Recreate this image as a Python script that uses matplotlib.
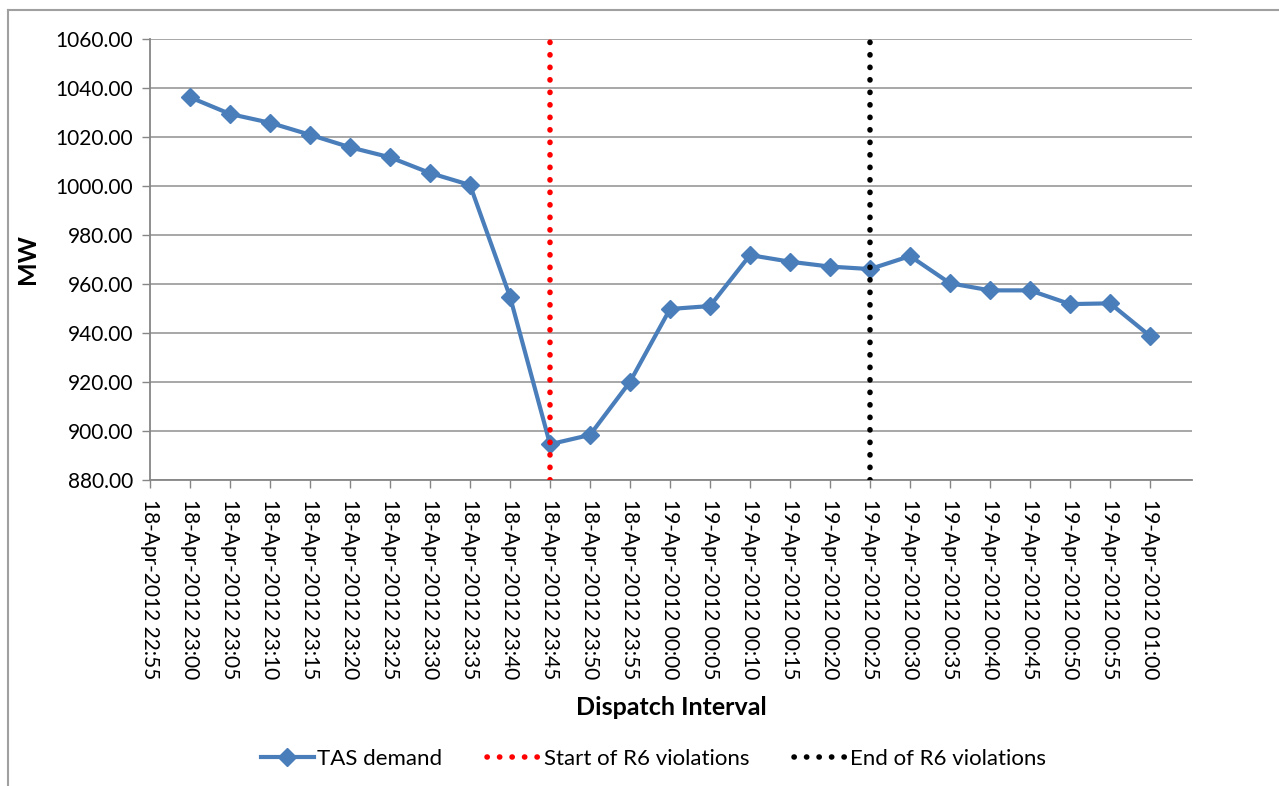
import matplotlib.pyplot as plt
from matplotlib.lines import Line2D

plt.rcParams['font.family'] = ['Lato', 'DejaVu Sans']

# Intervalos de despacho (eje x)
intervalos = ['18-Apr-2012 22:55', '18-Apr-2012 23:00', '18-Apr-2012 23:05', '18-Apr-2012 23:10',
              '18-Apr-2012 23:15', '18-Apr-2012 23:20', '18-Apr-2012 23:25', '18-Apr-2012 23:30',
              '18-Apr-2012 23:35', '18-Apr-2012 23:40', '18-Apr-2012 23:45', '18-Apr-2012 23:50',
              '18-Apr-2012 23:55', '19-Apr-2012 00:00', '19-Apr-2012 00:05', '19-Apr-2012 00:10',
              '19-Apr-2012 00:15', '19-Apr-2012 00:20', '19-Apr-2012 00:25', '19-Apr-2012 00:30',
              '19-Apr-2012 00:35', '19-Apr-2012 00:40', '19-Apr-2012 00:45', '19-Apr-2012 00:50',
              '19-Apr-2012 00:55', '19-Apr-2012 01:00']

# Demanda TAS (MW), empieza en 23:00
demanda_intervalos = intervalos[1:]
demanda = [1036.2, 1029.4, 1025.8, 1020.9, 1015.8, 1011.7, 1005.3, 1000.4, 954.8, 894.6,
           898.4, 920.1, 949.8, 951.0, 971.8, 969.1, 967.1, 966.1, 971.4, 960.3,
           957.4, 957.4, 951.8, 952.1, 938.8]

inicio_violacion = '18-Apr-2012 23:45'
fin_violacion = '19-Apr-2012 00:25'

y_ticks = [880, 900, 920, 940, 960, 980, 1000, 1020, 1040, 1060]

fig = plt.figure(figsize=(12.79, 7.86), dpi=100)
ax = fig.add_axes([0.1173, 0.3893, 0.932 - 0.1173, 0.9504 - 0.3893])

pos = {lab: i for i, lab in enumerate(intervalos)}
xs = [pos[l] for l in demanda_intervalos]

ax.plot(xs, demanda, color='#4A7EBB', linewidth=3.0, marker='D', markersize=9,
        label='TAS demand', zorder=3)
ax.axvline(pos[inicio_violacion], color='#FF0000', linewidth=4.0,
           linestyle=(0, (0.05, 2.2)), dash_capstyle='round', label='Start of R6 violations', zorder=4)
ax.axvline(pos[fin_violacion], color='#000000', linewidth=4.0,
           linestyle=(0, (0.05, 2.2)), dash_capstyle='round', label='End of R6 violations', zorder=4)

# Ejes
ax.set_xlim(0, 26.05)
ax.set_ylim(880, 1060)
ax.set_yticks(y_ticks)
ax.set_yticklabels([f'{v:.2f}' for v in y_ticks])
ax.set_xticks(range(len(intervalos)))
ax.set_xticklabels(intervalos, rotation=270, ha='center', va='top')
ax.tick_params(axis='both', labelsize=15, color='#868686', length=6, width=1)
ax.tick_params(axis='x', pad=8)
ax.tick_params(axis='y', pad=6)
ax.grid(True, axis='y', color='#A0A0A0', linewidth=1.3)
ax.set_axisbelow(True)
for s in ['top', 'right']:
    ax.spines[s].set_visible(False)
for s in ['left', 'bottom']:
    ax.spines[s].set_color('#868686')
    ax.spines[s].set_linewidth(1.3)

ax.set_ylabel('MW', fontsize=18, fontweight='bold', labelpad=12)
ax.set_xlabel('Dispatch Interval', fontsize=18, fontweight='bold', labelpad=12)

fig.legend(loc='center', bbox_to_anchor=(0.511, 0.034), ncol=3, frameon=False, fontsize=16,
           handlelength=2.4, handletextpad=0.15, columnspacing=2.0)

# Marco exterior del gráfico
fig.add_artist(Line2D([8 / 1279, 1], [1 - 10 / 786, 1 - 10 / 786], color='#A0A0A0', linewidth=1.5))
fig.add_artist(Line2D([8 / 1279, 8 / 1279], [0, 1 - 10 / 786], color='#A0A0A0', linewidth=1.5))

plt.savefig('out.png', dpi=100)
